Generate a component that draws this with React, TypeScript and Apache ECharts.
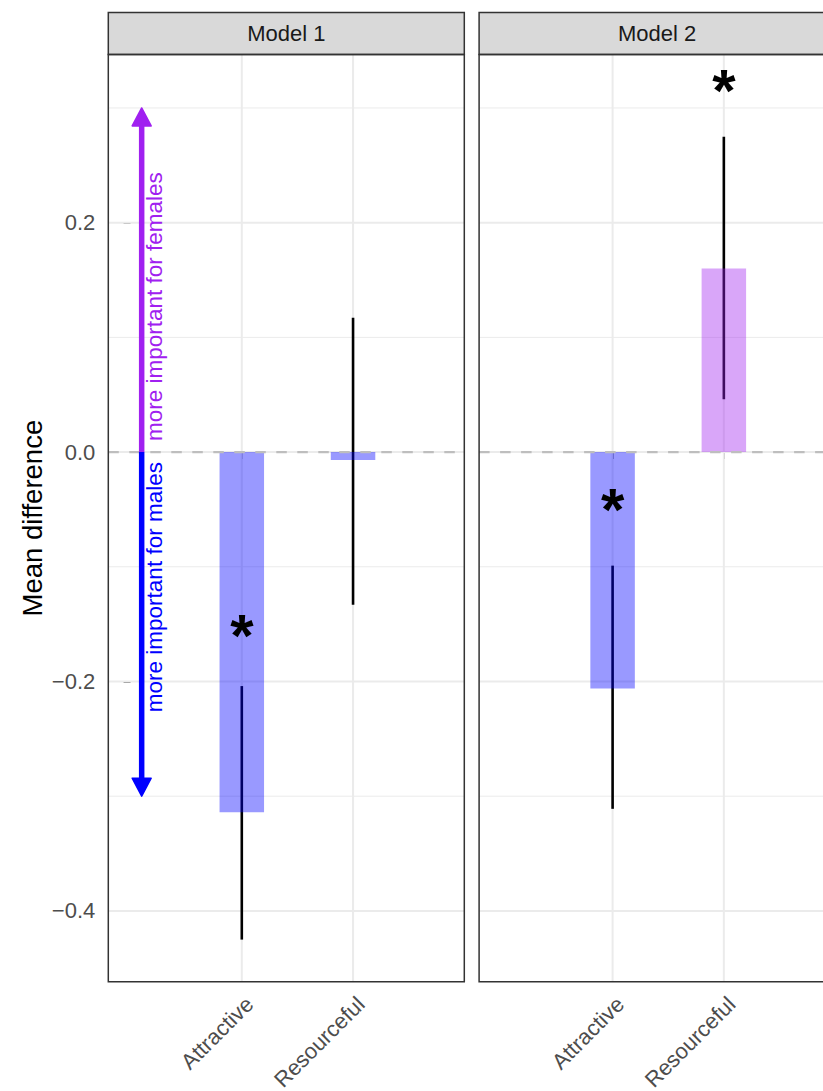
import React, { useEffect, useRef } from "react";
import * as echarts from "echarts";

// ---------------- data ----------------
const panels = ["Model 1", "Model 2"];
const categories = ["Attractive", "Resourceful"];
const categoryX = [1, 2];
const meanDiff = [
  [-0.314, -0.007],
  [-0.206, 0.160],
];
const ciLower = [
  [-0.425, -0.133],
  [-0.311, 0.046],
];
const ciUpper = [
  [-0.204, 0.117],
  [-0.099, 0.275],
];
const starY: (number | null)[][] = [
  [-0.165, null],
  [-0.055, 0.31],
];
const yTicks = [-0.4, -0.2, 0, 0.2];
const yMinorTicks = [-0.3, -0.1, 0.1, 0.3];
const yMin = -0.4618;
const yMax = 0.3466;
const xMin = -0.2;
const xMax = 3.0;
const arrowX = 0.1;
const arrowEnds = [0.3, -0.3];
const arrowLabels = ["more important for females", "more important for males"];
const yTitle = "Mean difference";

// ---------------- layout / style ----------------
const FONT = "'Liberation Sans', Arial, Helvetica, sans-serif";
const CHART_W = 860;
const PANEL_LEFT = [108.3, 479.1];
const PANEL_W = 356;
const PANEL_TOP = 54.5;
const PANEL_H = 927.3;
const STRIP_TOP = 12.5;
const BAR_HALF = 0.2;
const BLUE = "#0000FF";
const PURPLE = "#A020F0";
const BLUE_FILL = "rgba(0,0,255,0.4)";
const PURPLE_FILL = "rgba(160,32,240,0.4)";
const GRID_COL = "#EBEBEB";
const BORDER = "#333333";

const fmtY = (v: number) => (v < 0 ? "\u2212" : "") + Math.abs(v).toFixed(1);

function buildOption() {
  const grid: any[] = [];
  const xAxis: any[] = [];
  const yAxis: any[] = [];
  const series: any[] = [];
  const graphic: any[] = [];

  panels.forEach((name, p) => {
    grid.push({
      left: PANEL_LEFT[p],
      top: PANEL_TOP,
      width: PANEL_W,
      height: PANEL_H,
      containLabel: false,
      outerBoundsMode: "none",
    });
    xAxis.push({
      type: "value",
      gridIndex: p,
      min: xMin,
      max: xMax,
      axisLine: { show: false },
      splitLine: { show: false },
      axisTick: {
        show: true,
        customValues: categoryX,
        length: 7,
        lineStyle: { color: BORDER, width: 1.5 },
      },
      axisLabel: {
        show: true,
        customValues: categoryX,
        formatter: (v: number) => categories[categoryX.indexOf(v)] ?? "",
        rotate: 45,
        fontSize: 22,
        color: "#4D4D4D",
        fontFamily: FONT,
        margin: 11,
        align: "right",
        verticalAlign: "top",
      },
    });
    yAxis.push({
      type: "value",
      gridIndex: p,
      min: yMin,
      max: yMax,
      axisLine: { show: false },
      splitLine: { show: false },
      axisTick: {
        show: p === 0,
        customValues: yTicks,
        length: 7,
        lineStyle: { color: BORDER, width: 1.5 },
      },
      axisLabel: {
        show: p === 0,
        customValues: yTicks,
        formatter: (v: number) => fmtY(v),
        fontSize: 22,
        color: "#4D4D4D",
        fontFamily: FONT,
        margin: 13,
      },
    });

    // grid lines
    const gridData: number[][] = [
      ...yMinorTicks.map((v) => [1, v]),
      ...yTicks.map((v) => [0, v]),
      ...categoryX.map((v) => [2, v]),
    ];
    series.push({
      type: "custom",
      xAxisIndex: p,
      yAxisIndex: p,
      z: 1,
      silent: true,
      data: gridData,
      renderItem: (params: any, api: any) => {
        const kind = api.value(0);
        const v = api.value(1);
        if (kind === 2) {
          const a = api.coord([v, yMin]);
          const b = api.coord([v, yMax]);
          return {
            type: "line",
            shape: { x1: a[0], y1: a[1], x2: b[0], y2: b[1] },
            style: { stroke: GRID_COL, lineWidth: 2 },
          };
        }
        const a = api.coord([xMin, v]);
        const b = api.coord([xMax, v]);
        return {
          type: "line",
          shape: { x1: a[0], y1: a[1], x2: b[0], y2: b[1] },
          style: { stroke: GRID_COL, lineWidth: kind === 0 ? 2 : 1 },
        };
      },
    });

    // error bars
    series.push({
      type: "custom",
      xAxisIndex: p,
      yAxisIndex: p,
      z: 2,
      silent: true,
      data: categoryX.map((x, i) => [x, ciLower[p][i], ciUpper[p][i]]),
      renderItem: (params: any, api: any) => {
        const x = api.value(0);
        const a = api.coord([x, api.value(1)]);
        const b = api.coord([x, api.value(2)]);
        return {
          type: "line",
          shape: { x1: a[0], y1: a[1], x2: b[0], y2: b[1] },
          style: { stroke: "#000000", lineWidth: 2.6 },
        };
      },
    });

    // bars
    series.push({
      type: "custom",
      xAxisIndex: p,
      yAxisIndex: p,
      z: 3,
      silent: true,
      data: categoryX.map((x, i) => [x, meanDiff[p][i]]),
      renderItem: (params: any, api: any) => {
        const x = api.value(0);
        const v = api.value(1);
        const a = api.coord([x - BAR_HALF, v]);
        const b = api.coord([x + BAR_HALF, 0]);
        return {
          type: "rect",
          shape: {
            x: a[0],
            y: Math.min(a[1], b[1]),
            width: b[0] - a[0],
            height: Math.abs(b[1] - a[1]),
          },
          style: { fill: v >= 0 ? PURPLE_FILL : BLUE_FILL },
        };
      },
    });

    // zero line
    series.push({
      type: "custom",
      xAxisIndex: p,
      yAxisIndex: p,
      z: 4,
      silent: true,
      data: [[xMin, 0]],
      renderItem: (params: any, api: any) => {
        const a = api.coord([xMin, 0]);
        const b = api.coord([xMax, 0]);
        return {
          type: "line",
          shape: { x1: a[0], y1: a[1], x2: b[0], y2: b[1] },
          style: { stroke: "#BEBEBE", lineWidth: 2.4, lineDash: [10.5, 10.5] },
        };
      },
    });

    if (p === 0) {
      // arrows
      series.push({
        type: "custom",
        xAxisIndex: p,
        yAxisIndex: p,
        z: 5,
        silent: true,
        data: arrowEnds.map((v) => [arrowX, v]),
        renderItem: (params: any, api: any) => {
          const x = api.value(0);
          const v = api.value(1);
          const o = api.coord([x, 0]);
          const t = api.coord([x, v]);
          const dir = v > 0 ? -1 : 1;
          const headLen = 18;
          const headHalf = 9.5;
          const baseY = t[1] - dir * headLen;
          const col = v > 0 ? PURPLE : BLUE;
          return {
            type: "group",
            children: [
              {
                type: "line",
                shape: { x1: o[0], y1: o[1], x2: t[0], y2: baseY + dir * 2 },
                style: { stroke: col, lineWidth: 5.5 },
              },
              {
                type: "polygon",
                shape: {
                  points: [
                    [t[0], t[1]],
                    [t[0] - headHalf, baseY],
                    [t[0] + headHalf, baseY],
                  ],
                },
                style: { fill: col, stroke: col, lineWidth: 1.5, lineJoin: "round" },
              },
            ],
          };
        },
      });
      // arrow labels
      series.push({
        type: "custom",
        xAxisIndex: p,
        yAxisIndex: p,
        z: 6,
        silent: true,
        data: arrowEnds.map((v, i) => [arrowX, v, i]),
        renderItem: (params: any, api: any) => {
          const x = api.value(0);
          const v = api.value(1);
          const i = api.value(2);
          const o = api.coord([x, 0]);
          const up = v > 0;
          return {
            type: "text",
            x: o[0] + 13,
            y: o[1] + (up ? -11 : 10),
            rotation: Math.PI / 2,
            style: {
              text: arrowLabels[i],
              fill: up ? PURPLE : BLUE,
              fontSize: 22.5,
              fontFamily: FONT,
              align: up ? "left" : "right",
              verticalAlign: "middle",
            },
          };
        },
      });
    }

    // significance stars
    const stars: number[][] = [];
    categoryX.forEach((x, i) => {
      const s = starY[p][i];
      if (s !== null) stars.push([x, s]);
    });
    series.push({
      type: "custom",
      xAxisIndex: p,
      yAxisIndex: p,
      z: 7,
      silent: true,
      data: stars,
      renderItem: (params: any, api: any) => {
        const c = api.coord([api.value(0), api.value(1)]);
        return {
          type: "text",
          x: c[0],
          y: c[1] - 6,
          style: {
            text: "*",
            fill: "#000000",
            fontSize: 60,
            fontWeight: "bold",
            fontFamily: FONT,
            align: "center",
            verticalAlign: "middle",
          },
        };
      },
    });

    // strip + border
    graphic.push({
      type: "rect",
      z: 100,
      silent: true,
      shape: { x: PANEL_LEFT[p], y: STRIP_TOP, width: PANEL_W, height: PANEL_TOP - STRIP_TOP },
      style: { fill: "#D9D9D9", stroke: BORDER, lineWidth: 1.5 },
    });
    graphic.push({
      type: "text",
      z: 101,
      silent: true,
      x: PANEL_LEFT[p] + PANEL_W / 2,
      y: (STRIP_TOP + PANEL_TOP) / 2,
      style: {
        text: name,
        fill: "#1A1A1A",
        fontSize: 22,
        fontFamily: FONT,
        align: "center",
        verticalAlign: "middle",
      },
    });
    graphic.push({
      type: "rect",
      z: 100,
      silent: true,
      shape: { x: PANEL_LEFT[p], y: PANEL_TOP, width: PANEL_W, height: PANEL_H },
      style: { fill: "none", stroke: BORDER, lineWidth: 1.5 },
    });
  });

  graphic.push({
    type: "text",
    z: 101,
    silent: true,
    x: 32,
    y: PANEL_TOP + PANEL_H / 2,
    rotation: Math.PI / 2,
    style: {
      text: yTitle,
      fill: "#000000",
      fontSize: 27.5,
      fontFamily: FONT,
      align: "center",
      verticalAlign: "middle",
    },
  });

  return {
    animation: false,
    backgroundColor: "#FFFFFF",
    grid,
    xAxis,
    yAxis,
    series,
    graphic,
  };
}

export default function App() {
  const ref = useRef<HTMLDivElement>(null);
  useEffect(() => {
    document.body.style.margin = "0";
    if (!ref.current) return;
    const chart = echarts.init(ref.current, undefined, { renderer: "svg" });
    chart.setOption(buildOption() as any);
    return () => chart.dispose();
  }, []);
  return (
    <div style={{ width: 823, height: 1091, overflow: "hidden" }}>
      <div ref={ref} style={{ width: CHART_W, height: 1091 }} />
    </div>
  );
}
